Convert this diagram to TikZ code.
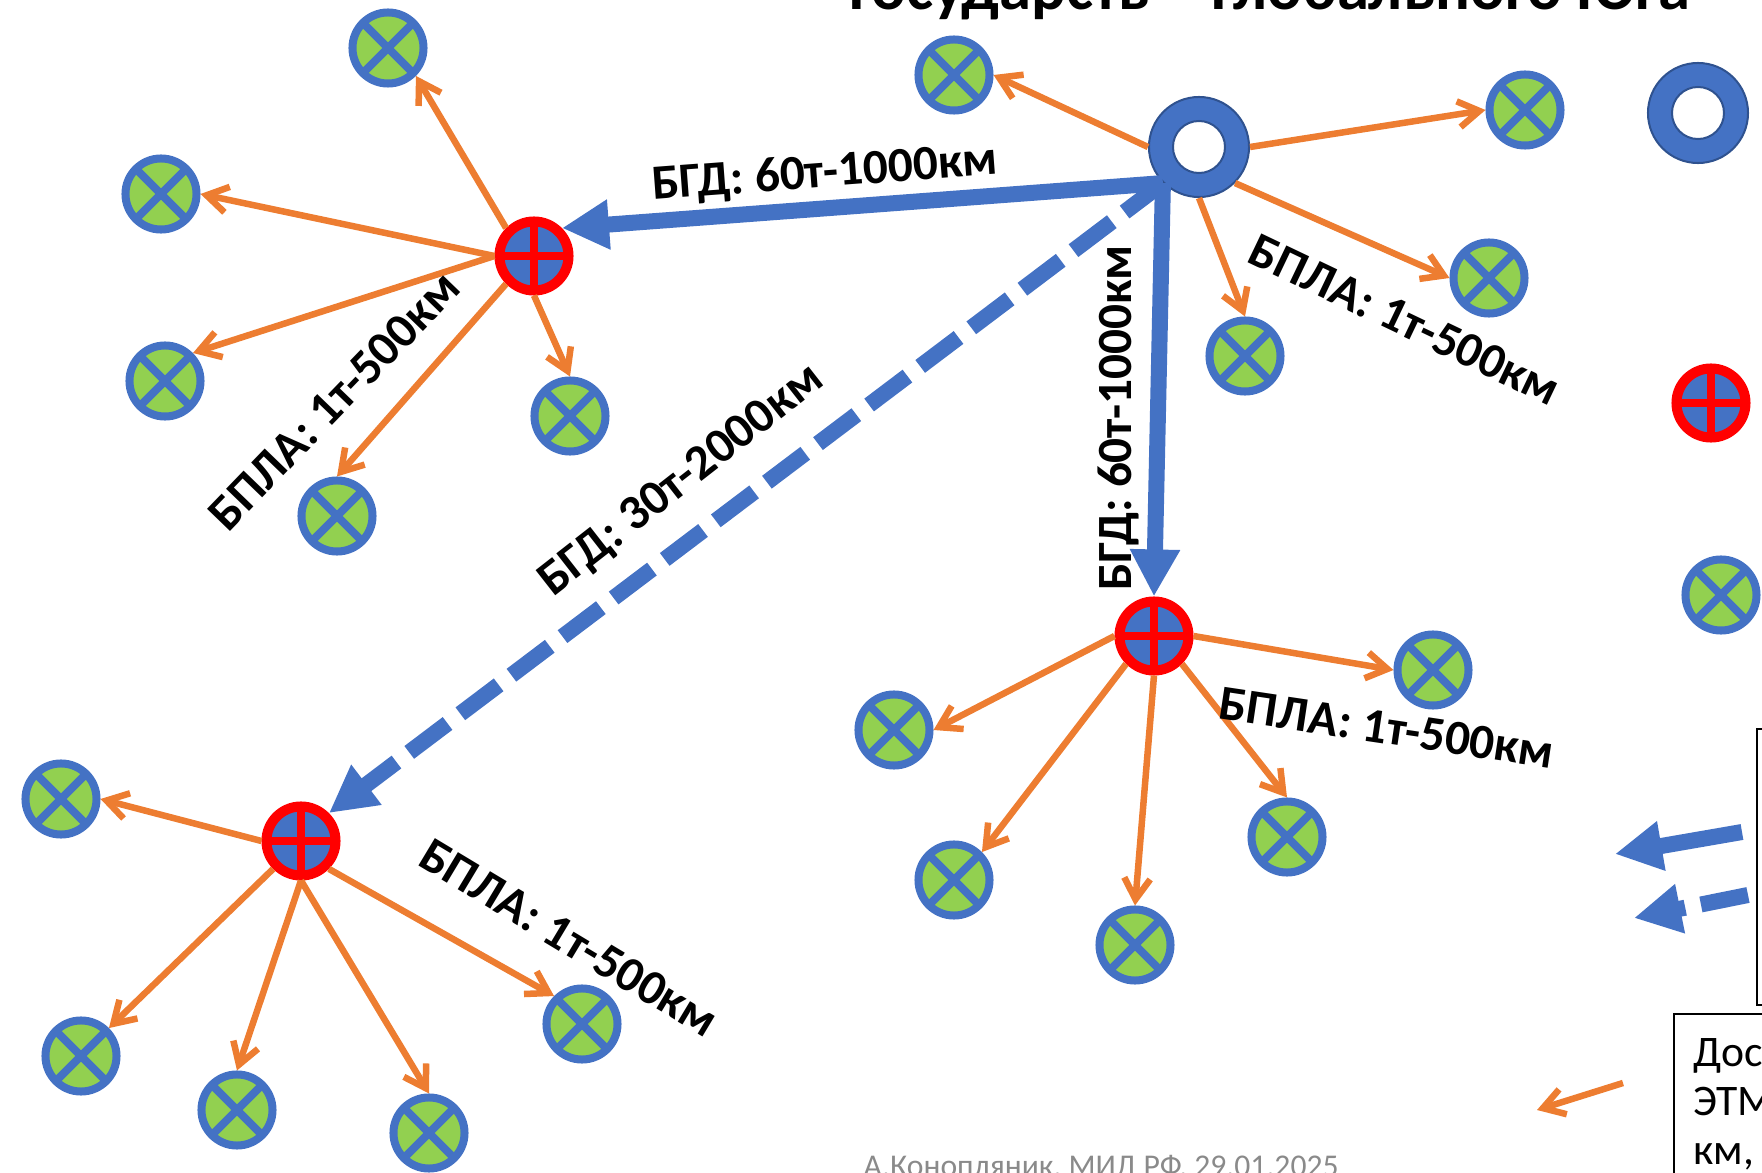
\documentclass[tikz,border=0pt]{standalone}
\usepackage{fontspec}
\setmainfont{Carlito}
\usepackage{tikz}
\usetikzlibrary{arrows.meta,positioning}
\definecolor{hubblue}{HTML}{4472C4}
\definecolor{hubedge}{HTML}{2F528F}
\definecolor{dronegreen}{HTML}{92D050}
\definecolor{droneorange}{HTML}{ED7D31}
\definecolor{basered}{HTML}{FF0000}
\definecolor{footgray}{HTML}{8A8A8A}

\begin{document}
\begin{tikzpicture}[
  x=0.01cm, y=-0.01cm,
  hubring/.style={circle, draw=hubedge, line width=0.02cm, fill=hubblue, minimum size=1.0cm, inner sep=0pt,
    path picture={\draw[hubedge, line width=0.02cm, fill=white] (path picture bounding box.center) circle[radius=0.26cm];}},
  dronenode/.style={circle, draw=hubblue, line width=0.08cm, fill=dronegreen, minimum size=0.71cm, inner sep=0pt,
    path picture={\draw[hubblue, line width=0.08cm] (path picture bounding box.north west) -- (path picture bounding box.south east)
      (path picture bounding box.south west) -- (path picture bounding box.north east);}},
  basenode/.style={circle, draw=basered, line width=0.10cm, fill=hubblue, minimum size=0.69cm, inner sep=0pt,
    path picture={\draw[basered, line width=0.075cm] (path picture bounding box.north) -- (path picture bounding box.south)
      (path picture bounding box.west) -- (path picture bounding box.east);}},
  bgdarrow/.style={-{Triangle[length=0.47cm,width=0.47cm]}, line width=0.16cm, hubblue},
  bgddash/.style={bgdarrow, dash pattern=on 0.48cm off 0.16cm},
  bplaarrow/.style={-{Straight Barb[length=0.21cm,width=0.26cm]}, line width=0.065cm, droneorange},
  rangelabel/.style={font=\bfseries\fontsize{14}{16}\selectfont, inner sep=0pt},
  keytext/.style={font=\fontsize{12.4}{14}\selectfont, anchor=base west, inner sep=0pt}
]
  \useasboundingbox (0,0) rectangle (1762,1173);
  \clip (0,0) rectangle (1762,1173);

  \node[font=\bfseries\fontsize{18.4}{20}\selectfont, anchor=base west, inner sep=0pt] (title) at (849,10) {Государств – Глобального Юга};

  \node[hubring]  (hub)     at (1199,147) {};
  \node[basenode] (baseup)  at (534,256)  {};
  \node[basenode] (basemid) at (1154,636) {};
  \node[basenode] (baselow) at (301,841)  {};

  \node[dronenode] (h1) at (954,75)   {};
  \node[dronenode] (h2) at (1525,110) {};
  \node[dronenode] (h3) at (1489,278) {};
  \node[dronenode] (h4) at (1245,356) {};

  \node[dronenode] (u1) at (388,48)  {};
  \node[dronenode] (u2) at (161,194) {};
  \node[dronenode] (u3) at (165,381) {};
  \node[dronenode] (u4) at (337,516) {};
  \node[dronenode] (u5) at (570,416) {};

  \node[dronenode] (m1) at (1433,670) {};
  \node[dronenode] (m2) at (894,730)  {};
  \node[dronenode] (m3) at (954,880)  {};
  \node[dronenode] (m4) at (1135,945) {};
  \node[dronenode] (m5) at (1287,837) {};

  \node[dronenode] (l1) at (61,799)   {};
  \node[dronenode] (l2) at (81,1056)  {};
  \node[dronenode] (l3) at (237,1110) {};
  \node[dronenode] (l4) at (429,1133) {};
  \node[dronenode] (l5) at (582,1024) {};

  \draw[bgdarrow] (hub.south west) -- (baseup.north east);
  \draw[bgdarrow] (hub.south west) -- (basemid.north);
  \draw[bgddash]  (hub.south west) -- (baselow.north east);

  \draw[bplaarrow] (hub.west)       -- (h1.east);
  \draw[bplaarrow] (hub.east)       -- (h2.west);
  \draw[bplaarrow] (hub.south east) -- (h3.west);
  \draw[bplaarrow] (hub.south)      -- (h4.north);

  \draw[bplaarrow] (baseup.north west) -- (u1.south east);
  \draw[bplaarrow] (baseup.west)       -- (u2.east);
  \draw[bplaarrow] (baseup.west)       -- (u3.north east);
  \draw[bplaarrow] (baseup.south west) -- (u4.north);
  \draw[bplaarrow] (baseup.south)      -- (u5.north);

  \draw[bplaarrow] (basemid.east)       -- (m1.west);
  \draw[bplaarrow] (basemid.west)       -- (m2.east);
  \draw[bplaarrow] (basemid.south west) -- (m3.north east);
  \draw[bplaarrow] (basemid.south)      -- (m4.north);
  \draw[bplaarrow] (basemid.south east) -- (m5.north);

  \draw[bplaarrow] (baselow.west)       -- (l1.east);
  \draw[bplaarrow] (baselow.south west) -- (l2.north east);
  \draw[bplaarrow] (baselow.south)      -- (l3.north);
  \draw[bplaarrow] (baselow.south)      -- (l4.north);
  \draw[bplaarrow] (baselow.south east) -- (l5.north west);

  \node[rangelabel, rotate=4.3]   (lblup)   at (825,174)  {БГД: 60т-1000км};
  \node[rangelabel, rotate=90]    (lblmid)  at (1118,418) {БГД: 60т-1000км};
  \node[rangelabel, rotate=38]    (lbllow)  at (682,481)  {БГД: 30т-2000км};
  \node[rangelabel, rotate=46]    (lblu)    at (334,401)  {БПЛА: 1т-500км};
  \node[rangelabel, rotate=-25.5] (lblh)    at (1405,320) {БПЛА: 1т-500км};
  \node[rangelabel, rotate=-8.5]  (lblm)    at (1387,728) {БПЛА: 1т-500км};
  \node[rangelabel, rotate=-31]   (lbll)    at (569,938)  {БПЛА: 1т-500км};

  \node[hubring]   (keyhub)   at (1698,113) {};
  \node[basenode]  (keybase)  at (1711,403) {};
  \node[dronenode] (keydrone) at (1721,595) {};

  \draw[line width=0.015cm] (1757,729) rectangle (1800,1005);
  \draw[line width=0.015cm] (1674,1014) rectangle (1800,1200);

  \coordinate (keysolidA) at (1742,832);
  \coordinate (keysolidB) at (1615,854);
  \coordinate (keydashA)  at (1748,895);
  \coordinate (keydashB)  at (1634,918);
  \coordinate (keybplaA)  at (1623,1083);
  \coordinate (keybplaB)  at (1537,1110);
  \draw[bgdarrow]  (keysolidA) -- (keysolidB);
  \draw[bgddash]   (keydashA)  -- (keydashB);
  \draw[bplaarrow] (keybplaA)  -- (keybplaB);

  \node[keytext] (keyline1) at (1693,1067) {Дост};
  \node[keytext] (keyline2) at (1693,1116) {ЭТМ};
  \node[keytext] (keyline3) at (1693,1164) {км,};

  \node[font=\fontsize{9}{11}\selectfont, text=footgray, anchor=base west, inner sep=0pt] (credit) at (863,1176) {А.Конопляник, МИД РФ, 29.01.2025};
\end{tikzpicture}
\end{document}
